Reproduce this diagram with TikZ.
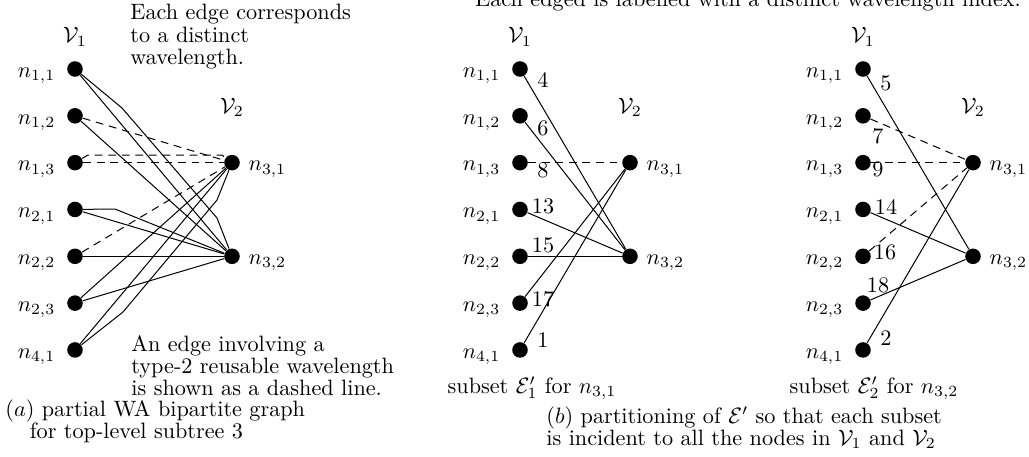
\documentclass[tikz,border=0pt]{standalone}
\usetikzlibrary{positioning}
\tikzset{
  vtx/.style={circle, fill=black, inner sep=0pt, minimum size=7pt},
  nl/.style={inner sep=0pt, label distance=5pt, yshift=-3pt},
  nr/.style={inner sep=0pt, label distance=3.6pt, yshift=-3pt},
  edg/.style={line width=0.45pt},
  redg/.style={edg, dash pattern=on 3.5pt off 2.6pt},
  wl/.style={inner sep=0pt},
  note/.style={align=left, inner sep=0pt, font=\fontsize{10}{10}\selectfont}
}
\begin{document}
\begin{tikzpicture}[x=0.45pt, y=-0.45pt, on grid, node distance=21.07pt]
  \useasboundingbox (0,0) rectangle (1029,457);

  % ── (a) partial WA bipartite graph ──
  \node[vtx, label={[nl]left:$n_{1,1}$}] (a11) at (75,69) {};
  \node[vtx, below=of a11, label={[nl]left:$n_{1,2}$}] (a12) {};
  \node[vtx, below=of a12, label={[nl]left:$n_{1,3}$}] (a13) {};
  \node[vtx, below=of a13, label={[nl]left:$n_{2,1}$}] (a21) {};
  \node[vtx, below=of a21, label={[nl]left:$n_{2,2}$}] (a22) {};
  \node[vtx, below=of a22, label={[nl]left:$n_{2,3}$}] (a23) {};
  \node[vtx, below=of a23, label={[nl]left:$n_{4,1}$}] (a41) {};
  \node[vtx, right=70.65pt of a13, label={[nr]right:$n_{3,1}$}] (a31) {};
  \node[vtx, right=70.65pt of a22, label={[nr]right:$n_{3,2}$}] (a32) {};
  \node[above=14.4pt of a11] (va1) {$\mathcal{V}_1$};
  \node[above=25pt of a31] (va2) {$\mathcal{V}_2$};

  \draw[edg] (a11) -- (a32);
  \draw[edg] (a11) -- (122,108) -- (217,218) -- (a32);
  \draw[redg] (a12) -- (a31);
  \draw[edg] (a12) -- (a32);
  \draw[redg] (a13) -- (a31);
  \draw[redg] (a13) -- (88,155) -- (222,155) -- (a31);
  \draw[edg] (a21) -- (a32);
  \draw[edg] (a21) -- (115,209) -- (a32);
  \draw[redg] (a22) -- (a31);
  \draw[edg] (a22) -- (a32);
  \draw[edg] (a23) -- (a31);
  \draw[edg] (a23) -- (a32);
  \draw[edg] (a41) -- (a31);
  \draw[edg] (a41) -- (123,312) -- (217,200) -- (a31);

  \node[note, anchor=north west] (nt1) at (130,4)
    {Each edge corresponds\\to a distinct\\wavelength.};
  \node[note, anchor=north west] (nt2) at (131,335)
    {An edge involving a\\type-2 reusable wavelength\\is shown as a dashed line.};
  \node[note, anchor=north west] (capa) at (5,399)
    {$(a)$ partial WA bipartite graph\\\hspace*{11pt}for top-level subtree 3};

  % ── (b) subset for n_{3,1} ──
  \node[vtx, label={[nl]left:$n_{1,1}$}] (b11) at (520,69) {};
  \node[vtx, below=of b11, label={[nl]left:$n_{1,2}$}] (b12) {};
  \node[vtx, below=of b12, label={[nl]left:$n_{1,3}$}] (b13) {};
  \node[vtx, below=of b13, label={[nl]left:$n_{2,1}$}] (b21) {};
  \node[vtx, below=of b21, label={[nl]left:$n_{2,2}$}] (b22) {};
  \node[vtx, below=of b22, label={[nl]left:$n_{2,3}$}] (b23) {};
  \node[vtx, below=of b23, label={[nl]left:$n_{4,1}$}] (b41) {};
  \node[vtx, right=49.5pt of b13, label={[nr]right:$n_{3,1}$}] (b31) {};
  \node[vtx, right=49.5pt of b22, label={[nr]right:$n_{3,2}$}] (b32) {};
  \node[above=14.4pt of b11] (vb1) {$\mathcal{V}_1$};
  \node[above=25pt of b31] (vb2) {$\mathcal{V}_2$};

  \draw[edg] (b11) -- (b32);
  \draw[edg] (b12) -- (b32);
  \draw[redg] (b13) -- (b31);
  \draw[edg] (b21) -- (b32);
  \draw[edg] (b22) -- (b32);
  \draw[edg] (b23) -- (b31);
  \draw[edg] (b41) -- (b31);
  \node[wl] at (543,80) {4};
  \node[wl] at (543,128) {6};
  \node[wl] at (543,170) {8};
  \node[wl] at (543,206) {13};
  \node[wl] at (543,245) {15};
  \node[wl] at (543,299) {17};
  \node[wl] at (543,340) {1};
  \node[wl] (sub1) at (532,388) {subset $\mathcal{E}'_1$ for $n_{3,1}$};

  % ── (b) subset for n_{3,2} ──
  \node[vtx, label={[nl]left:$n_{1,1}$}] (c11) at (863,69) {};
  \node[vtx, below=of c11, label={[nl]left:$n_{1,2}$}] (c12) {};
  \node[vtx, below=of c12, label={[nl]left:$n_{1,3}$}] (c13) {};
  \node[vtx, below=of c13, label={[nl]left:$n_{2,1}$}] (c21) {};
  \node[vtx, below=of c21, label={[nl]left:$n_{2,2}$}] (c22) {};
  \node[vtx, below=of c22, label={[nl]left:$n_{2,3}$}] (c23) {};
  \node[vtx, below=of c23, label={[nl]left:$n_{4,1}$}] (c41) {};
  \node[vtx, right=49.5pt of c13, label={[nr]right:$n_{3,1}$}] (c31) {};
  \node[vtx, right=49.5pt of c22, label={[nr]right:$n_{3,2}$}] (c32) {};
  \node[above=14.4pt of c11] (vc1) {$\mathcal{V}_1$};
  \node[above=25pt of c31] (vc2) {$\mathcal{V}_2$};

  \draw[edg] (c11) -- (c32);
  \draw[redg] (c12) -- (c31);
  \draw[redg] (c13) -- (c31);
  \draw[edg] (c21) -- (c32);
  \draw[redg] (c22) -- (c31);
  \draw[edg] (c23) -- (c32);
  \draw[edg] (c41) -- (c31);
  \node[wl] at (886,83) {5};
  \node[wl] at (878,136) {7};
  \node[wl] at (878,169) {9};
  \node[wl] at (886,207) {14};
  \node[wl] at (885,252) {16};
  \node[wl] at (878,285) {18};
  \node[wl] at (886,338) {2};
  \node[wl] (sub2) at (874,388) {subset $\mathcal{E}'_2$ for $n_{3,2}$};

  \node[note, anchor=north west] (capb) at (546,406)
    {$(b)$ partitioning of $\mathcal{E}'$ so that each subset\\is incident to all the nodes in $\mathcal{V}_1$ and $\mathcal{V}_2$};
  \node[anchor=base] (head) at (748,7)
    {Each edged is labelled with a distinct wavelength index.};
\end{tikzpicture}
\end{document}
